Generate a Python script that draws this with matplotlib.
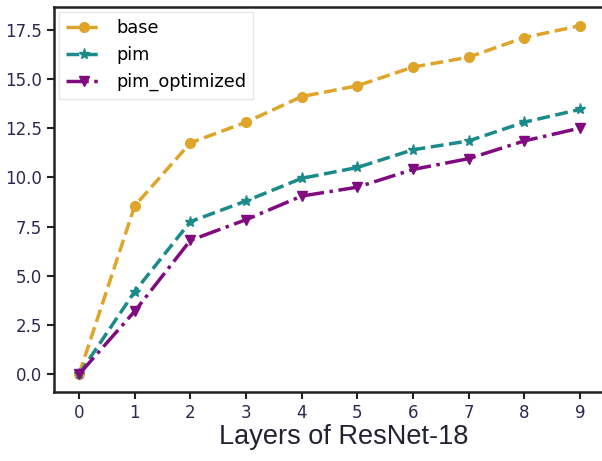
import matplotlib
matplotlib.use("Agg")
import matplotlib.pyplot as plt

plt.rcParams['font.family'] = ['DejaVu Sans']

layers = [0, 1, 2, 3, 4, 5, 6, 7, 8, 9]
base = [0.0, 8.55, 11.75, 12.8, 14.1, 14.65, 15.6, 16.1, 17.1, 17.7]
pim = [0.0, 4.2, 7.75, 8.8, 9.95, 10.5, 11.4, 11.85, 12.8, 13.45]
pim_optimized = [0.0, 3.2, 6.8, 7.85, 9.05, 9.5, 10.4, 10.95, 11.85, 12.5]
ylabels_ticks = [0.0, 2.5, 5.0, 7.5, 10.0, 12.5, 15.0, 17.5]

fig = plt.figure(figsize=(6.02, 4.61), dpi=100)
ax = fig.add_axes([54/602, (461-392)/461, (605-54)/602, (392-7)/461])

ax.plot(layers, base, color='#dfa52a', ls='--', lw=2.5, marker='o', ms=7, label='base')
ax.plot(layers, pim, color='#1b8a8a', ls='--', lw=2.5, marker='*', ms=8, label='pim')
ax.plot(layers, pim_optimized, color='#800a80', ls='-.', lw=2.5, marker='v', ms=7, label='pim_optimized')

ax.set_xlim(-0.45, 9.45)
ax.set_ylim(-0.9, 18.65)
ax.set_xticks(layers)
ax.set_yticks(ylabels_ticks)
ax.set_yticklabels([f"{v:.1f}" for v in ylabels_ticks])
ax.tick_params(labelsize=12, length=5, width=1.5, colors='#222222', labelcolor='#2a2a50')
for s in ax.spines.values():
    s.set_linewidth(1.8)
    s.set_color('#222222')
ax.set_xlabel('Layers of ResNet-18', fontsize=19.5, family='Liberation Sans', color='#222233')
ax.xaxis.set_label_coords((344-54)/(605-54), -(437-392)/385, transform=ax.transAxes)
ax.get_xaxis().label.set_verticalalignment('center')
ax.legend(loc='upper left', fontsize=12.8, frameon=True, fancybox=False, framealpha=0.8,
          edgecolor='#e0e0e0', handlelength=2.0, borderaxespad=0.3)

fig.savefig('out.png', dpi=100)
